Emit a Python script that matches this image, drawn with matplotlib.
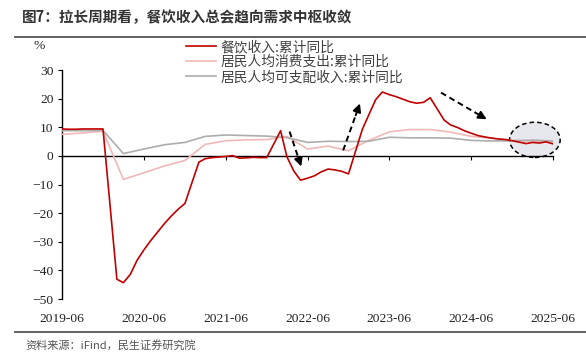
import pandas as pd
import matplotlib
matplotlib.use("Agg")
import matplotlib.pyplot as plt
from matplotlib.patches import Ellipse

plt.rcParams['font.family'] = ['Noto Sans CJK SC', 'DejaVu Sans']

# 餐饮收入:累计同比 (monthly, Jan merged into Feb)
red_months = ['2019-06', '2019-07', '2019-08', '2019-09', '2019-10', '2019-11', '2019-12',
              '2020-02', '2020-03', '2020-04', '2020-05', '2020-06', '2020-07', '2020-08', '2020-09', '2020-10', '2020-11', '2020-12',
              '2021-02', '2021-03', '2021-04', '2021-05', '2021-06', '2021-07', '2021-08', '2021-09', '2021-10', '2021-11', '2021-12',
              '2022-02', '2022-03', '2022-04', '2022-05', '2022-06', '2022-07', '2022-08', '2022-09', '2022-10', '2022-11', '2022-12',
              '2023-02', '2023-03', '2023-04', '2023-05', '2023-06', '2023-07', '2023-08', '2023-09', '2023-10', '2023-11', '2023-12',
              '2024-02', '2024-03', '2024-04', '2024-05', '2024-06', '2024-07', '2024-08', '2024-09', '2024-10', '2024-11', '2024-12',
              '2025-02', '2025-03', '2025-04', '2025-05', '2025-06']
catering = [9.4, 9.3, 9.3, 9.4, 9.4, 9.4, 9.4,
            -43.1, -44.3, -41.4, -36.5, -32.8, -29.6, -26.6, -23.6, -21.0, -18.6, -16.6,
            -2.2, -1.0, -0.6, -0.4, -0.2, 0.1, -0.8, -0.7, -0.5, -0.6, -0.6,
            8.8, -0.3, -5.3, -8.5, -7.8, -7.0, -5.6, -4.6, -4.9, -5.4, -6.3,
            9.3, 14.2, 19.6, 22.3, 21.4, 20.7, 19.8, 18.9, 18.4, 18.7, 20.3,
            12.5, 10.8, 9.9, 8.8, 7.9, 7.1, 6.6, 6.2, 5.9, 5.7, 5.3,
            4.3, 4.7, 4.5, 4.9, 4.2]

# quarterly household series
q_months = ['2019-06', '2019-09', '2019-12', '2020-03', '2020-06', '2020-09', '2020-12',
            '2021-03', '2021-06', '2021-09', '2021-12', '2022-03', '2022-06', '2022-09', '2022-12',
            '2023-03', '2023-06', '2023-09', '2023-12', '2024-03', '2024-06', '2024-09', '2024-12',
            '2025-03', '2025-06']
spending = [7.5, 8.0, 8.6, -8.2, -5.9, -3.5, -1.6, 4.0, 5.3, 5.6, 5.7, 6.8, 2.4, 3.4, 1.8,
            5.4, 8.4, 9.2, 9.2, 8.3, 6.8, 6.2, 5.3, 5.2, 4.9]
income = [8.8, 8.8, 8.9, 0.8, 2.4, 3.9, 4.7, 6.8, 7.3, 7.1, 6.9, 6.4, 4.7, 5.1, 5.0,
          5.1, 6.5, 6.3, 6.3, 6.2, 5.4, 5.2, 5.3, 5.5, 5.2]

labels = ['餐饮收入:累计同比', '居民人均消费支出:累计同比', '居民人均可支配收入:累计同比']
tick_months = ['2019-06', '2020-06', '2021-06', '2022-06', '2023-06', '2024-06', '2025-06']

red_x = pd.to_datetime(red_months)
q_x = pd.to_datetime(q_months)
ticks = pd.to_datetime(tick_months)

fig = plt.figure(figsize=(5.86, 3.6), dpi=100)
ax = fig.add_axes([62 / 586, 1 - 299 / 360, (553 - 62) / 586, (299 - 70) / 360])

ax.plot(red_x, catering, color='#C00000', lw=1.2, label=labels[0], zorder=4)
ax.plot(q_x, spending, color='#F2B8B8', lw=1.2, label=labels[1], zorder=3)
ax.plot(q_x, income, color='#ADADAD', lw=1.2, label=labels[2], zorder=3)

ax.set_xlim(ticks[0], ticks[-1])
ax.set_ylim(-50, 30)
ax.set_yticks(range(-50, 31, 10))
ax.set_xticks(ticks)
ax.set_xticklabels(tick_months)

for s in ['top', 'right']:
    ax.spines[s].set_visible(False)
ax.spines['bottom'].set_position(('data', 0))
ax.spines['bottom'].set_linewidth(1.0)
ax.spines['left'].set_linewidth(1.0)
ax.tick_params(axis='x', direction='out', length=3, pad=110)
ax.tick_params(axis='y', direction='out', length=3, pad=3)
for lab in ax.get_xticklabels() + ax.get_yticklabels():
    lab.set_fontfamily('Liberation Serif')
    lab.set_fontsize(9.7)
    lab.set_color('#222222')

# highlight circle and trend arrows
ell = Ellipse((pd.Timestamp('2025-03-12'), 5.6), width=226, height=12.3, clip_on=False,
              facecolor='#E6E8EE', edgecolor='black', ls=(0, (3, 2)), lw=1.1, zorder=2)
ax.add_patch(ell)
arrows = [(('2022-03-13', 8.5), ('2022-05-04', -3.7)),
          (('2022-11-07', 1.9), ('2023-01-21', 18.3)),
          (('2024-01-18', 22.1), ('2024-08-09', 12.8))]
for (x0, y0), (x1, y1) in arrows:
    t0, t1 = pd.Timestamp(x0), pd.Timestamp(x1)
    tm = t0 + (t1 - t0) * 0.75
    ym = y0 + (y1 - y0) * 0.75
    ax.plot([t0, tm], [y0, ym], color='black', lw=1.4, ls=(0, (3, 2)), zorder=5)
    ax.annotate('', xy=(t1, y1), xytext=(tm, ym),
                arrowprops=dict(arrowstyle='-|>', color='black', lw=1.4,
                                mutation_scale=12, shrinkA=0, shrinkB=0), zorder=5)

ax.legend(loc='upper left', bbox_to_anchor=(186 / 586, 1 - 40 / 360), bbox_transform=fig.transFigure,
          frameon=False, fontsize=9.9, handlelength=2.2, handletextpad=0.3, labelspacing=0.08,
          borderpad=0, borderaxespad=0, labelcolor='#404040')

fig.text(33 / 586, 1 - 46 / 360, '%', fontsize=9.7, family='Liberation Serif', color='#222222',
         ha='left', va='center')

# title, rules and source
fig.text(22 / 586, 1 - 17 / 360, '图7：拉长周期看，餐饮收入总会趋向需求中枢收敛', fontsize=10.5,
         fontweight='bold', color='#333333', ha='left', va='center')
fig.add_artist(plt.Line2D([15 / 586, 1], [1 - 37 / 360] * 2, color='#555555', lw=1.3))
fig.add_artist(plt.Line2D([15 / 586, 1], [1 - 332 / 360] * 2, color='#555555', lw=1.3))
fig.text(25 / 586, 1 - 345 / 360, '资料来源：iFind，民生证券研究院', fontsize=8, color='#555555',
         ha='left', va='center')

fig.savefig('out.png', dpi=100)
